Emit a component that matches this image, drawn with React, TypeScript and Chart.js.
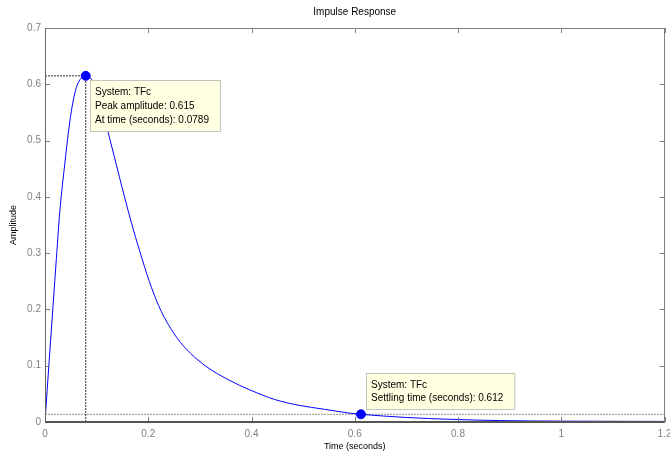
import React, { useEffect, useRef } from "react";
import { Chart, registerables } from "chart.js";

Chart.register(...registerables);

// ---- data ----
const timeS = [
  0, 0.008, 0.016, 0.022, 0.0288, 0.0385, 0.045, 0.051, 0.058, 0.064, 0.071, 0.0789,
  0.088, 0.1, 0.11, 0.122, 0.128, 0.144, 0.154, 0.168, 0.183, 0.202, 0.22, 0.231,
  0.256, 0.282, 0.311, 0.356, 0.397, 0.445, 0.49, 0.542, 0.593, 0.612, 0.7, 0.785,
  0.88, 1.0, 1.2,
];
const amplitude = [
  0, 0.108, 0.212, 0.29, 0.375, 0.46, 0.512, 0.552, 0.585, 0.602, 0.612, 0.615,
  0.611, 0.594, 0.565, 0.516, 0.494, 0.436, 0.4, 0.352, 0.305, 0.25, 0.207, 0.186,
  0.149, 0.122, 0.0995, 0.0746, 0.057, 0.04, 0.03, 0.0225, 0.0154, 0.0137, 0.008, 0.0048,
  0.0025, 0.0015, 0.001,
];
const xTickValues = [0, 0.2, 0.4, 0.6, 0.8, 1, 1.2];
const yTickValues = [0, 0.1, 0.2, 0.3, 0.4, 0.5, 0.6, 0.7];
const peakTime = 0.0789;
const peakAmp = 0.615;
const settleTime = 0.612;
const settleAmp = 0.0137;
const settleBand = 0.0137;
const peakLabel = ["System: TFc", "Peak amplitude: 0.615", "At time (seconds): 0.0789"];
const settleLabel = ["System: TFc", "Settling time (seconds): 0.612"];
const titleText = "Impulse Response";
const xTitle = "Time (seconds)";
const yTitle = "Amplitude";

const FONT = "'Liberation Sans', Arial, Helvetica, sans-serif";

const framePlugin = {
  id: "matlabFrame",
  afterDatasetsDraw(chart: any) {
    const { ctx, chartArea, scales } = chart;
    const { left, right, top, bottom } = chartArea;
    ctx.save();
    // inward ticks
    ctx.strokeStyle = "#808080";
    ctx.lineWidth = 1;
    const tl = 5;
    ctx.beginPath();
    xTickValues.forEach((v) => {
      const x = Math.round(scales.x.getPixelForValue(v)) + 0.5;
      ctx.moveTo(x, bottom);
      ctx.lineTo(x, bottom - tl);
      ctx.moveTo(x, top);
      ctx.lineTo(x, top + tl);
    });
    yTickValues.forEach((v) => {
      const y = Math.round(scales.y.getPixelForValue(v)) + 0.5;
      ctx.moveTo(left, y);
      ctx.lineTo(left + tl, y);
      ctx.moveTo(right, y);
      ctx.lineTo(right - tl, y);
    });
    ctx.stroke();
    // frame
    ctx.strokeStyle = "#808080";
    ctx.beginPath();
    ctx.moveTo(left, Math.round(top) + 0.5);
    ctx.lineTo(right, Math.round(top) + 0.5);
    ctx.moveTo(Math.round(right) - 0.5, top);
    ctx.lineTo(Math.round(right) - 0.5, bottom);
    ctx.stroke();
    ctx.strokeStyle = "#666666";
    ctx.beginPath();
    ctx.moveTo(Math.round(left) + 0.5, top);
    ctx.lineTo(Math.round(left) + 0.5, bottom);
    ctx.stroke();
    ctx.strokeStyle = "#555555";
    ctx.lineWidth = 2;
    ctx.beginPath();
    ctx.moveTo(left, Math.round(bottom));
    ctx.lineTo(right, Math.round(bottom));
    ctx.stroke();
    ctx.restore();
  },
  afterDraw(chart: any) {
    const { ctx, scales } = chart;
    const drawBox = (lines: string[], bx: number, by: number, spacing: number, anchorBottom: boolean) => {
      ctx.save();
      ctx.font = `10px ${FONT}`;
      const w = Math.max(...lines.map((l) => ctx.measureText(l).width)) + 17;
      const h = 24 + (lines.length - 1) * spacing;
      const x0 = Math.round(bx);
      const y0 = Math.round(anchorBottom ? by - h : by);
      ctx.fillStyle = "#ffffe1";
      ctx.fillRect(x0, y0, w, h);
      ctx.strokeStyle = "#c4c4bc";
      ctx.lineWidth = 1;
      ctx.strokeRect(x0 + 0.5, y0 + 0.5, w - 1, h - 1);
      ctx.fillStyle = "#000000";
      ctx.textBaseline = "middle";
      ctx.textAlign = "left";
      lines.forEach((l, i) => ctx.fillText(l, x0 + 5, y0 + 12 + i * spacing));
      ctx.restore();
    };
    const px = scales.x.getPixelForValue(peakTime);
    const py = scales.y.getPixelForValue(peakAmp);
    drawBox(peakLabel, px + 4, py + 4, 14, false);
    const sx = scales.x.getPixelForValue(settleTime);
    const sy = scales.y.getPixelForValue(settleAmp);
    drawBox(settleLabel, sx + 5, sy - 4, 13, true);
  },
};

export default function App() {
  const canvasRef = useRef<HTMLCanvasElement | null>(null);

  useEffect(() => {
    const canvas = canvasRef.current;
    if (!canvas) return;
    const curve = timeS.map((t, i) => ({ x: t, y: amplitude[i] }));
    const xMax = xTickValues[xTickValues.length - 1];
    const chart = new Chart(canvas, {
      type: "scatter",
      data: {
        datasets: [
          {
            label: "peak",
            data: [{ x: peakTime, y: peakAmp }],
            showLine: false,
            pointRadius: 4.5,
            pointBackgroundColor: "#0000ff",
            pointBorderColor: "#0000ff",
            order: 0,
          },
          {
            label: "settle",
            data: [{ x: settleTime, y: settleAmp }],
            showLine: false,
            pointRadius: 4.5,
            pointBackgroundColor: "#0000ff",
            pointBorderColor: "#0000ff",
            order: 0,
          },
          {
            label: "TFc",
            data: curve,
            showLine: true,
            borderColor: "#0000ff",
            borderWidth: 1,
            pointRadius: 0,
            cubicInterpolationMode: "monotone",
            order: 1,
          },
          {
            label: "peakH",
            data: [{ x: 0, y: peakAmp }, { x: peakTime, y: peakAmp }],
            showLine: true,
            borderColor: "#333333",
            borderWidth: 1,
            borderDash: [2, 1],
            pointRadius: 0,
            order: 2,
          },
          {
            label: "peakV",
            data: [{ x: peakTime, y: 0 }, { x: peakTime, y: peakAmp }],
            showLine: true,
            borderColor: "#333333",
            borderWidth: 1,
            borderDash: [2, 1],
            pointRadius: 0,
            order: 2,
          },
          {
            label: "band",
            data: [{ x: 0, y: settleBand }, { x: xMax, y: settleBand }],
            showLine: true,
            borderColor: "#8a8a8a",
            borderWidth: 1,
            borderDash: [2, 1],
            pointRadius: 0,
            order: 2,
          },
        ],
      },
      options: {
        animation: false,
        responsive: false,
        devicePixelRatio: 1,
        events: [],
        layout: { padding: { left: 0, right: 1, top: 0, bottom: 0 } },
        plugins: {
          legend: { display: false },
          tooltip: { enabled: false },
          title: {
            display: true,
            text: titleText,
            fullSize: false,
            color: "#000000",
            font: { size: 10, family: FONT, weight: "normal" },
            padding: { top: 6, bottom: 10 },
          },
        },
        scales: {
          x: {
            type: "linear",
            min: 0,
            max: xMax,
            grid: { display: false, drawTicks: false },
            border: { display: false },
            ticks: {
              stepSize: 0.2,
              autoSkip: false,
              maxRotation: 0,
              padding: 6,
              color: "#808080",
              font: { size: 10, family: FONT },
              callback: (v: any) => String(Number(Number(v).toFixed(2))),
            },
            title: {
              display: true,
              text: xTitle,
              color: "#000000",
              font: { size: 9, family: FONT },
              padding: { top: 0, bottom: 5 },
            },
            afterFit: (s: any) => {
              s.height = 35;
              s.paddingLeft = 0;
              s.paddingRight = 0;
            },
          },
          y: {
            type: "linear",
            min: 0,
            max: yTickValues[yTickValues.length - 1],
            grid: { display: false, drawTicks: false },
            border: { display: false },
            ticks: {
              stepSize: 0.1,
              autoSkip: false,
              padding: 4,
              color: "#808080",
              font: { size: 10, family: FONT },
              callback: (v: any) => String(Number(Number(v).toFixed(2))),
            },
            title: {
              display: true,
              text: yTitle,
              color: "#000000",
              font: { size: 9, family: FONT },
              padding: { top: 8, bottom: 0 },
            },
            afterFit: (s: any) => {
              s.width = 45;
              s.paddingTop = 0;
              s.paddingBottom = 0;
            },
          },
        },
      } as any,
      plugins: [framePlugin],
    });
    return () => chart.destroy();
  }, []);

  return (
    <div style={{ position: "absolute", left: 0, top: 0, width: 670, height: 457, background: "#ffffff" }}>
      <canvas ref={canvasRef} width={670} height={457} />
    </div>
  );
}
